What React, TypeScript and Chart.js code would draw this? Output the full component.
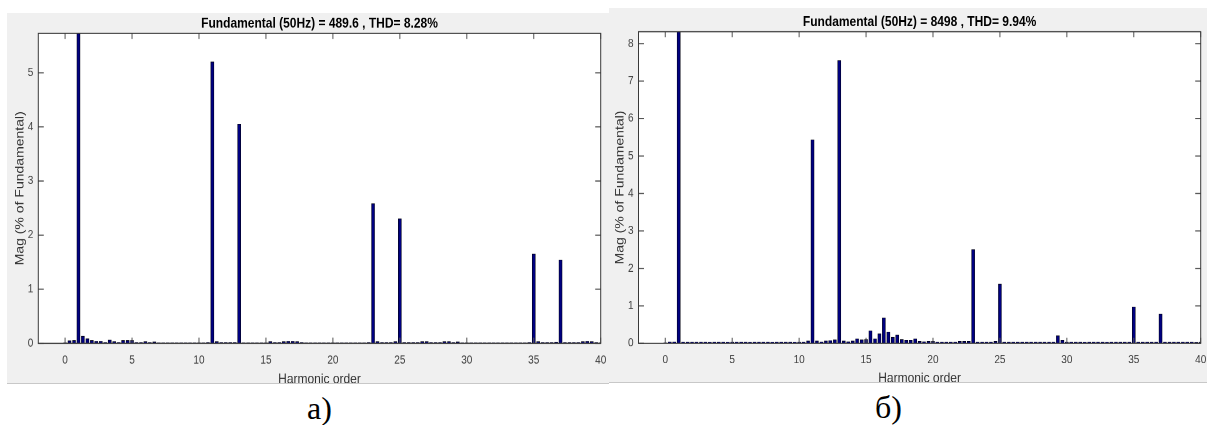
import React, { useEffect, useRef } from "react";
import { Chart, registerables } from "chart.js";

Chart.register(...registerables);

// ---------------- data ----------------
const harmonicOrders = [
  0, 0.33, 0.67, 1, 1.33, 1.67, 2, 2.33, 2.67, 3, 3.33, 3.67, 4, 4.33, 4.67,
  5, 5.33, 5.67, 6, 6.33, 6.67, 7, 7.33, 7.67, 8, 8.33, 8.67, 9, 9.33, 9.67,
  10, 10.33, 10.67, 11, 11.33, 11.67, 12, 12.33, 12.67, 13, 13.33, 13.67, 14, 14.33, 14.67,
  15, 15.33, 15.67, 16, 16.33, 16.67, 17, 17.33, 17.67, 18, 18.33, 18.67, 19, 19.33, 19.67,
  20, 20.33, 20.67, 21, 21.33, 21.67, 22, 22.33, 22.67, 23, 23.33, 23.67, 24, 24.33, 24.67,
  25, 25.33, 25.67, 26, 26.33, 26.67, 27, 27.33, 27.67, 28, 28.33, 28.67, 29, 29.33, 29.67,
  30, 30.33, 30.67, 31, 31.33, 31.67, 32, 32.33, 32.67, 33, 33.33, 33.67, 34, 34.33, 34.67,
  35, 35.33, 35.67, 36, 36.33, 36.67, 37, 37.33, 37.67, 38, 38.33, 38.67, 39, 39.33, 39.67,
  40,
];

// panel а) magnitudes, % of fundamental
const magA = [
  0.01, 0.045, 0.05,
  100, 0.13, 0.08,
  0.05, 0.035, 0.035,
  0.015, 0.06, 0.03,
  0.015, 0.05, 0.05,
  0.05, 0.015, 0.015,
  0.03, 0.015, 0.025,
  0.012, 0.012, 0.01,
  0.012, 0.01, 0.012,
  0.01, 0.012, 0.01,
  0.012, 0.01, 0.015,
  5.2, 0.03, 0.015,
  0.015, 0.015, 0.015,
  4.05, 0.012, 0.012,
  0.01, 0.012, 0.01,
  0.012, 0.03, 0.015,
  0.015, 0.03, 0.035,
  0.035, 0.03, 0.015,
  0.012, 0.01, 0.012,
  0.01, 0.012, 0.01,
  0.012, 0.01, 0.012,
  0.01, 0.012, 0.01,
  0.012, 0.012, 0.015,
  2.58, 0.03, 0.015,
  0.015, 0.015, 0.03,
  2.3, 0.015, 0.015,
  0.015, 0.015, 0.03,
  0.03, 0.015, 0.015,
  0.015, 0.03, 0.03,
  0.015, 0.025, 0.012,
  0.01, 0.012, 0.01,
  0.012, 0.01, 0.012,
  0.01, 0.012, 0.01,
  0.012, 0.01, 0.012,
  0.01, 0.012, 0.015,
  1.65, 0.03, 0.015,
  0.015, 0.015, 0.02,
  1.54, 0.015, 0.015,
  0.015, 0.015, 0.03,
  0.035, 0.03, 0.015,
  0.01,
];

// panel б) magnitudes, % of fundamental
const magB = [
  0.01, 0.035, 0.035,
  100, 0.03, 0.03,
  0.03, 0.03, 0.03,
  0.03, 0.025, 0.03,
  0.03, 0.03, 0.025,
  0.03, 0.03, 0.03,
  0.03, 0.025, 0.03,
  0.03, 0.03, 0.03,
  0.025, 0.03, 0.03,
  0.03, 0.03, 0.025,
  0.03, 0.03, 0.06,
  5.43, 0.06, 0.035,
  0.06, 0.07, 0.09,
  7.55, 0.06, 0.04,
  0.06, 0.12, 0.09,
  0.1, 0.33, 0.12,
  0.25, 0.68, 0.3,
  0.16, 0.22, 0.1,
  0.08, 0.08, 0.12,
  0.05, 0.04, 0.05,
  0.05, 0.03, 0.03,
  0.03, 0.03, 0.03,
  0.05, 0.05, 0.05,
  2.5, 0.03, 0.03,
  0.03, 0.03, 0.05,
  1.58, 0.03, 0.03,
  0.03, 0.03, 0.03,
  0.03, 0.03, 0.03,
  0.03, 0.03, 0.03,
  0.03, 0.2, 0.08,
  0.03, 0.03, 0.03,
  0.03, 0.025, 0.03,
  0.03, 0.03, 0.03,
  0.025, 0.03, 0.03,
  0.03, 0.03, 0.03,
  0.97, 0.03, 0.03,
  0.03, 0.03, 0.03,
  0.78, 0.03, 0.03,
  0.03, 0.03, 0.03,
  0.03, 0.03, 0.02,
  0.03,
];

const xTickValues = [0, 5, 10, 15, 20, 25, 30, 35, 40];
const yTicksA = [0, 1, 2, 3, 4, 5];
const yTicksB = [0, 1, 2, 3, 4, 5, 6, 7, 8];
const xRange = [-2, 40];
const yMaxA = 5.73;
const yMaxB = 8.32;

const titleA = "Fundamental (50Hz) = 489.6 , THD= 8.28%";
const titleB = "Fundamental (50Hz) = 8498 , THD= 9.94%";
const xAxisLabel = "Harmonic order";
const yAxisLabel = "Mag (% of Fundamental)";
const captionA = "а)";
const captionB = "б)";

// ---------------- layout / style ----------------
const SANS = '"Liberation Sans", Arial, Helvetica, sans-serif';
const SERIF = '"Liberation Serif", "Times New Roman", serif';

type PanelCfg = {
  left: number;
  top: number;
  width: number;
  height: number;
  canvasH: number;
  padL: number;
  padR: number;
  padT: number;
  plotB: number;
  titleBase: number;
  xLabelBase: number;
  yLabelX: number;
};

const panelA: PanelCfg = {
  left: 7, top: 13, width: 602, height: 371, canvasH: 318,
  padL: 31.3, padR: 8.3, padT: 17.4, plotB: 283.1,
  titleBase: 12.3, xLabelBase: 317.6, yLabelX: 16.3,
};
const panelB: PanelCfg = {
  left: 609, top: 8, width: 598, height: 375, canvasH: 322,
  padL: 29.5, padR: 6.3, padT: 20.35, plotB: 287.9,
  titleBase: 15.5, xLabelBase: 321.4, yLabelX: 14.3,
};

function framePlugin(title: string, cfg: PanelCfg) {
  return {
    id: "matlabFrame",
    beforeDraw(chart: any) {
      const { ctx, chartArea: a } = chart;
      ctx.save();
      ctx.fillStyle = "#ffffff";
      ctx.fillRect(a.left, a.top, a.right - a.left, a.bottom - a.top);
      ctx.restore();
    },
    afterDraw(chart: any) {
      const { ctx, chartArea: a } = chart;
      const xs = chart.scales.x;
      const ys = chart.scales.y;
      ctx.save();
      ctx.lineWidth = 1;
      ctx.strokeStyle = "#555555";
      ctx.beginPath();
      xs.ticks.forEach((t: any) => {
        const px = xs.getPixelForValue(t.value);
        ctx.moveTo(px, a.bottom);
        ctx.lineTo(px, a.bottom - 4.8);
        ctx.moveTo(px, a.top);
        ctx.lineTo(px, a.top + 4.8);
      });
      ys.ticks.forEach((t: any) => {
        const py = ys.getPixelForValue(t.value);
        ctx.moveTo(a.left, py);
        ctx.lineTo(a.left + 5.5, py);
        ctx.moveTo(a.right, py);
        ctx.lineTo(a.right - 5.5, py);
      });
      ctx.stroke();
      ctx.strokeStyle = "#3a3a3a";
      ctx.strokeRect(a.left, a.top, a.right - a.left, a.bottom - a.top);

      ctx.fillStyle = "#000000";
      ctx.font = `bold 12px ${SANS}`;
      ctx.textAlign = "center";
      ctx.textBaseline = "alphabetic";
      ctx.fillText(title, (a.left + a.right) / 2, cfg.titleBase);

      ctx.fillStyle = "#333333";
      ctx.font = `12px ${SANS}`;
      ctx.fillText(xAxisLabel, (a.left + a.right) / 2, cfg.xLabelBase);
      ctx.translate(cfg.yLabelX, (a.top + a.bottom) / 2);
      ctx.rotate(-Math.PI / 2);
      ctx.fillText(yAxisLabel, 0, 0);
      ctx.restore();
    },
  };
}

function SpectrumPanel(props: {
  cfg: PanelCfg;
  title: string;
  values: number[];
  yTicks: number[];
  yMax: number;
}) {
  const { cfg, title, values, yTicks, yMax } = props;
  const ref = useRef<HTMLCanvasElement | null>(null);

  useEffect(() => {
    if (!ref.current) return;
    const points = values.map((v, i) => ({ x: harmonicOrders[i], y: v }));
    const chart = new Chart(ref.current, {
      type: "bar",
      data: {
        datasets: [
          {
            data: points as any,
            backgroundColor: "#000080",
            borderColor: "#000010",
            borderWidth: 0.6,
            barThickness: 3,
          } as any,
        ],
      },
      options: {
        responsive: false,
        animation: false,
        devicePixelRatio: 2,
        events: [],
        layout: {
          padding: { left: 0, top: cfg.padT, right: cfg.padR, bottom: 0 },
        },
        plugins: {
          legend: { display: false },
          tooltip: { enabled: false },
          title: { display: false },
        },
        scales: {
          x: {
            type: "linear",
            min: xRange[0],
            max: xRange[1],
            offset: false,
            grid: { display: false, drawTicks: false },
            border: { display: false },
            ticks: {
              color: "#404040",
              font: { family: SANS, size: 10 },
              padding: 8.5,
              maxRotation: 0,
              autoSkip: false,
            },
            afterBuildTicks: (s: any) => {
              s.ticks = xTickValues.map((v) => ({ value: v }));
            },
            afterFit: (s: any) => {
              s.height = cfg.canvasH - cfg.plotB;
              s.paddingLeft = 0;
              s.paddingRight = 0;
            },
          },
          y: {
            type: "linear",
            min: 0,
            max: yMax,
            grid: { display: false, drawTicks: false },
            border: { display: false },
            ticks: {
              color: "#404040",
              font: { family: SANS, size: 10 },
              padding: 5,
              autoSkip: false,
            },
            afterBuildTicks: (s: any) => {
              s.ticks = yTicks.map((v) => ({ value: v }));
            },
            afterFit: (s: any) => {
              s.width = cfg.padL;
              s.paddingTop = 0;
              s.paddingBottom = 0;
            },
          },
        },
      } as any,
      plugins: [framePlugin(title, cfg)],
    });
    return () => chart.destroy();
  }, [cfg, title, values, yTicks, yMax]);

  const s = cfg.height / cfg.canvasH;
  return (
    <div
      style={{
        position: "absolute",
        left: cfg.left,
        top: cfg.top,
        width: cfg.width,
        height: cfg.height,
        background: "#f0f0f0",
        borderBottom: "1px solid #c8c8c8",
        boxSizing: "border-box",
        overflow: "hidden",
      }}
    >
      <div
        style={{
          position: "absolute",
          left: 0,
          top: 0,
          width: cfg.width,
          height: cfg.canvasH,
          transform: `scaleY(${s})`,
          transformOrigin: "0 0",
        }}
      >
        <canvas ref={ref} width={cfg.width} height={cfg.canvasH} />
      </div>
    </div>
  );
}

export default function App() {
  return (
    <div
      style={{
        position: "absolute",
        left: 0,
        top: 0,
        width: 1207,
        height: 425,
        background: "#ffffff",
        overflow: "hidden",
      }}
    >
      <SpectrumPanel cfg={panelA} title={titleA} values={magA} yTicks={yTicksA} yMax={yMaxA} />
      <SpectrumPanel cfg={panelB} title={titleB} values={magB} yTicks={yTicksB} yMax={yMaxB} />
      <div
        style={{
          position: "absolute",
          left: 307,
          top: 392,
          fontFamily: SERIF,
          fontSize: 32,
          lineHeight: "32px",
          color: "#000",
          whiteSpace: "nowrap",
        }}
      >
        {captionA}
      </div>
      <div
        style={{
          position: "absolute",
          left: 875,
          top: 391,
          fontFamily: SERIF,
          fontSize: 32,
          lineHeight: "32px",
          color: "#000",
          whiteSpace: "nowrap",
        }}
      >
        {captionB}
      </div>
    </div>
  );
}
